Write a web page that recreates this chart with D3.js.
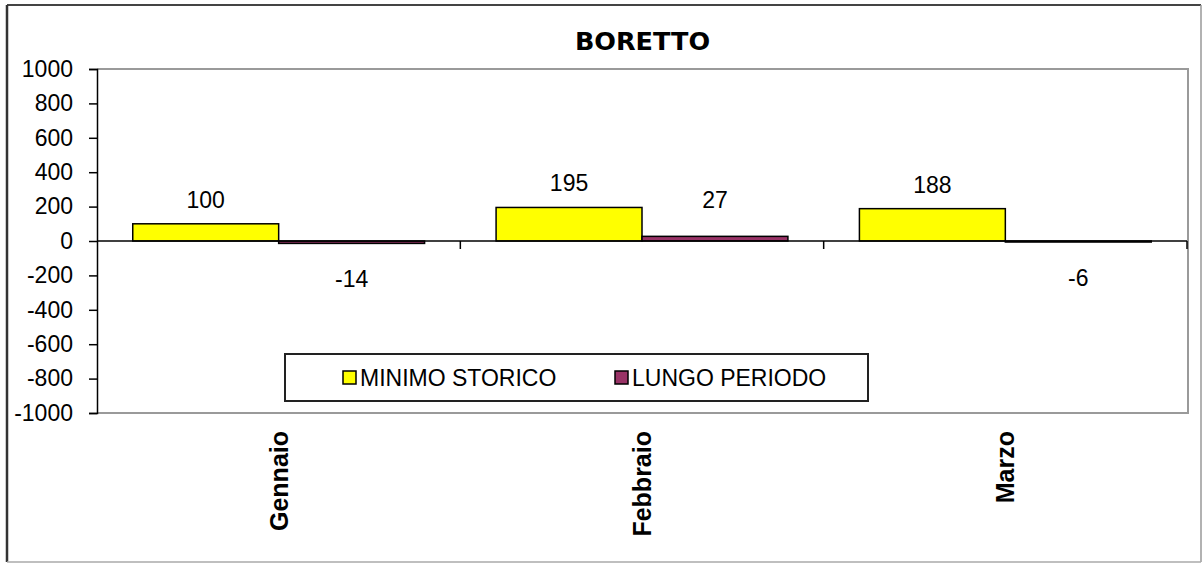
<!DOCTYPE html>
<html>
<head>
<meta charset="utf-8">
<script src="https://cdn.jsdelivr.net/npm/d3@7"></script>
<style>
  body { margin: 0; background: #fff; }
  svg { display: block; }
</style>
</head>
<body>
<div class="chart"></div>
<script>
var months = ["Gennaio", "Febbraio", "Marzo"];
var seriesNames = ["MINIMO STORICO", "LUNGO PERIODO"];
var minimoStorico = [100, 195, 188];
var lungoPeriodo = [-14, 27, -6];
var yTicks = [1000, 800, 600, 400, 200, 0, -200, -400, -600, -800, -1000];

var width = 1203,
    height = 563;

var colors = ["#ffff00", "#993366"];
var font = "'Liberation Sans', Arial, sans-serif";

var plot = { left: 97, right: 1188, top: 69, bottom: 413 };

var svg = d3.select(".chart").append("svg")
    .attr("width", width)
    .attr("height", height);

// outer frame
svg.append("rect")
    .attr("x", 0).attr("y", 0)
    .attr("width", width).attr("height", height)
    .attr("fill", "#fff");
svg.append("line").attr("x1", 7).attr("x2", 1201).attr("y1", 5).attr("y2", 5)
    .attr("stroke", "#444").attr("stroke-width", 2);
svg.append("line").attr("x1", 7).attr("x2", 7).attr("y1", 5).attr("y2", 562)
    .attr("stroke", "#333").attr("stroke-width", 2.5);
svg.append("line").attr("x1", 1201).attr("x2", 1201).attr("y1", 5).attr("y2", 562)
    .attr("stroke", "#999").attr("stroke-width", 1.5);
svg.append("line").attr("x1", 7).attr("x2", 1201).attr("y1", 562).attr("y2", 562)
    .attr("stroke", "#aaa").attr("stroke-width", 1.5);

var x = d3.scaleBand()
    .domain(months)
    .range([plot.left, plot.right - 1])
    .padding(0);

var xs = d3.scaleBand()
    .domain(seriesNames)
    .range([0, x.bandwidth()])
    .paddingInner(0)
    .paddingOuter(0.245);

var y = d3.scaleLinear()
    .domain([-1000, 1000])
    .range([plot.bottom, plot.top]);

// plot area border
svg.append("path")
    .attr("d", "M" + plot.left + "," + plot.top + "H" + plot.right + "V" + plot.bottom + "H" + plot.left)
    .attr("fill", "none")
    .attr("stroke", "#9a9a9a")
    .attr("stroke-width", 2);

// title
svg.append("text")
    .attr("x", (plot.left + plot.right) / 2)
    .attr("y", 50)
    .attr("text-anchor", "middle")
    .style("font-family", "'DejaVu Sans', Verdana, sans-serif")
    .style("font-weight", "bold")
    .style("font-size", "25.5px")
    .text("BORETTO");

// y axis (plain hyphen for negatives, like the original)
var yAxis = svg.append("g")
    .attr("transform", "translate(" + plot.left + ",0)")
    .call(d3.axisLeft(y).tickValues(yTicks).tickSize(8).tickPadding(16)
        .tickFormat(function(d) { return String(d); }));
yAxis.select(".domain").attr("stroke", "#000").attr("stroke-width", 1.5);
yAxis.selectAll(".tick line").attr("stroke", "#000").attr("stroke-width", 1.5);
yAxis.selectAll("text")
    .style("font-family", font)
    .style("font-size", "23px")
    .attr("fill", "#000");

// bars
var rows = months.map(function(m, i) {
    return { month: m, values: [minimoStorico[i], lungoPeriodo[i]] };
});

var groups = svg.selectAll(".grp")
    .data(rows)
    .enter().append("g")
    .attr("class", "grp")
    .attr("transform", function(d) { return "translate(" + x(d.month) + ",0)"; });

groups.selectAll("rect")
    .data(function(d) {
        return d.values.map(function(v, j) { return { name: seriesNames[j], value: v, idx: j }; });
    })
    .enter().append("rect")
    .attr("x", function(d) { return xs(d.name); })
    .attr("width", xs.bandwidth())
    .attr("y", function(d) { return y(Math.max(0, d.value)); })
    .attr("height", function(d) { return Math.abs(y(d.value) - y(0)); })
    .attr("fill", function(d) { return colors[d.idx]; })
    .attr("stroke", "#000")
    .attr("stroke-width", 1.5);

groups.selectAll(".lbl")
    .data(function(d) {
        return d.values.map(function(v, j) { return { name: seriesNames[j], value: v }; });
    })
    .enter().append("text")
    .attr("class", "lbl")
    .attr("x", function(d) { return xs(d.name) + xs.bandwidth() / 2; })
    .attr("y", function(d) {
        if (d.value >= 0) return Math.min(y(d.value) - 16, y(0) - 33);
        return y(d.value) + 44;
    })
    .attr("text-anchor", "middle")
    .style("font-family", font)
    .style("font-size", "23px")
    .text(function(d) { return d.value; });

// x axis at zero
svg.append("line")
    .attr("x1", plot.left).attr("x2", plot.right - 1)
    .attr("y1", y(0)).attr("y2", y(0))
    .attr("stroke", "#000").attr("stroke-width", 1.5);

svg.selectAll(".xtick")
    .data(months)
    .enter().append("line")
    .attr("class", "xtick")
    .attr("x1", function(d) { return x(d) + x.bandwidth(); })
    .attr("x2", function(d) { return x(d) + x.bandwidth(); })
    .attr("y1", y(0)).attr("y2", y(0) + 8)
    .attr("stroke", "#000").attr("stroke-width", 1.5);

// category labels
svg.selectAll(".xlab")
    .data(months)
    .enter().append("text")
    .attr("class", "xlab")
    .attr("transform", function(d) {
        return "translate(" + (x(d) + x.bandwidth() / 2) + ",431) rotate(-90)";
    })
    .attr("text-anchor", "end")
    .attr("dy", "0.36em")
    .style("font-family", font)
    .style("font-weight", "bold")
    .style("font-size", "25px")
    .text(function(d) { return d; });

// legend
var legend = svg.append("g").attr("transform", "translate(285,354)");
legend.append("rect")
    .attr("width", 583).attr("height", 47)
    .attr("fill", "#fff")
    .attr("stroke", "#222")
    .attr("stroke-width", 2);

var itemX = [58, 330];
var items = legend.selectAll(".item")
    .data(seriesNames)
    .enter().append("g")
    .attr("class", "item")
    .attr("transform", function(d, i) { return "translate(" + itemX[i] + ",0)"; });
items.append("rect")
    .attr("x", 0).attr("y", 17)
    .attr("width", 13).attr("height", 13)
    .attr("fill", function(d, i) { return colors[i]; })
    .attr("stroke", "#000")
    .attr("stroke-width", 1.5);
items.append("text")
    .attr("x", 17).attr("y", 32)
    .style("font-family", font)
    .style("font-size", "23px")
    .text(function(d) { return d; });
</script>
</body>
</html>
